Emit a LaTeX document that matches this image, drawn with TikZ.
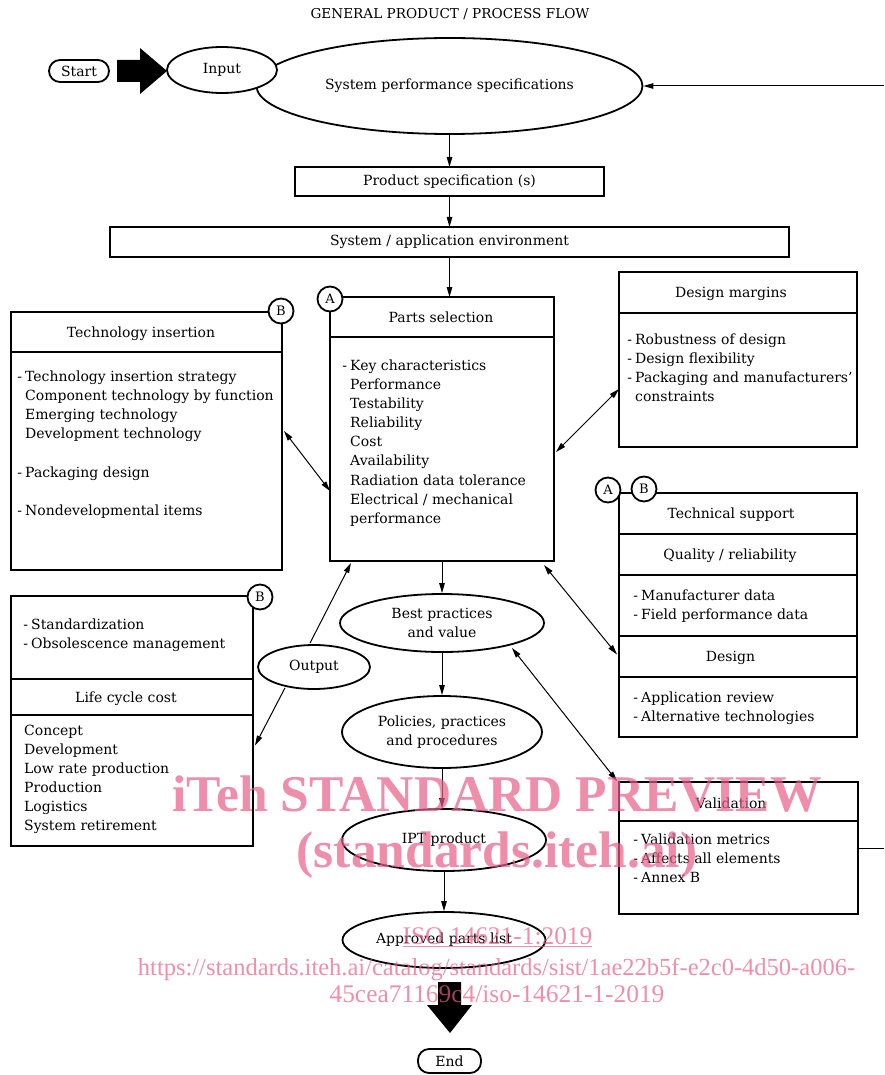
\documentclass[tikz,border=0pt]{standalone}
\usepackage{fontspec}
\setmainfont{DejaVu Serif}
\newfontfamily\wmfont{Liberation Serif}
\usetikzlibrary{shapes.geometric,arrows.meta,calc}
\definecolor{wmpink}{RGB}{231,94,134}
\newcommand\bodyfs{\fontsize{14}{19}\selectfont}
\newcommand\dsh{\llap{-\hspace{3pt}}}
\begin{document}
\begin{tikzpicture}[x=1pt,y=-1pt,
  every node/.style={font=\bodyfs},
  box/.style={draw, line width=1.8pt, rectangle, anchor=north west, inner sep=0, outer sep=0},
  ell/.style={draw, line width=1.8pt, ellipse, fill=white, inner sep=0, align=center},
  txt/.style={anchor=west, inner sep=0, text height=13pt, text depth=3pt},
  hdr/.style={inner sep=0, text height=13pt, text depth=3pt},
  arr/.style={line width=1pt, -{Triangle[length=10pt,width=5.5pt]}},
  darr/.style={line width=1pt, {Triangle[length=10pt,width=5.5pt]}-{Triangle[length=10pt,width=5.5pt]}},
  lbl/.style={draw, circle, line width=1.8pt, fill=white, minimum size=25pt, inner sep=0, font=\fontsize{13}{13}\selectfont},
  term/.style={draw, line width=1.8pt, rounded corners=11pt, inner sep=0},
  wm/.style={text=wmpink, opacity=0.7, inner sep=0, anchor=base}
]
\useasboundingbox (0,0) rectangle (884,1075);

% title
\node[font=\fontsize{13.6}{16}\selectfont] (title) at (450,14) {GENERAL PRODUCT / PROCESS FLOW};

% top flow
\node[term, minimum width=60pt, minimum height=22pt] (start) at (79,71) {Start};
\node[ell, minimum width=386pt, minimum height=96pt] (sps) at (449.5,86) {System performance specifications};
\node[ell, minimum width=110pt, minimum height=46pt] (input) at (222,70) {Input};
\fill (117,60) -- (140,60) -- (140,48) -- (167,71) -- (140,94) -- (140,82) -- (117,82) -- cycle;

\node[box, minimum width=309pt, minimum height=29pt] (ps) at (295,167) {Product specification (s)};
\node[box, minimum width=679pt, minimum height=30pt] (env) at (110,227) {System / application environment};

\coordinate (fbtop) at (884,86);
\draw[arr] (fbtop) -- (sps);
\draw[arr] (sps.south) -- (sps.south |- ps.north);
\draw[arr] (ps.south) -- (ps.south |- env.north);

% parts selection
\node[box, minimum width=224pt, minimum height=40pt] (psh) at (330,297) {};
\node[hdr] (psh-t) at (441,317) {Parts selection};
\node[box, minimum width=224pt, minimum height=224pt] (psb) at (330,337) {};
\draw[arr] (env.south) -- (env.south |- psh.north);
\foreach \y/\t [count=\i] in {365/{\dsh Key characteristics}, 384/Performance, 403/Testability, 422/Reliability, 441/Cost, 460/Availability, 480/{Radiation data tolerance}, 499/{Electrical / mechanical}, 518/performance}
  \node[txt] (psl\i) at (350,\y) {\t};
\node[lbl] (ca1) at (330,299) {A};

% technology insertion
\node[box, minimum width=271pt, minimum height=40pt] (tih) at (11,312) {};
\node[hdr] (tih-t) at (141,332) {Technology insertion};
\node[box, minimum width=271pt, minimum height=218pt] (tib) at (11,352) {};
\foreach \y/\t [count=\i] in {376/{\dsh Technology insertion strategy}, 395/{Component technology by function}, 414/{Emerging technology}, 433/{Development technology}, 472/{\dsh Packaging design}, 510/{\dsh Nondevelopmental items}}
  \node[txt] (til\i) at (25,\y) {\t};
\node[lbl] (cb1) at (281,311) {B};
\draw[darr] ($(tib.east)+(2,-30)$) -- ($(psb.west)+(0,42)$);

% design margins
\node[box, minimum width=238pt, minimum height=41pt] (dmh) at (619,272) {};
\node[hdr] (dmh-t) at (731,292) {Design margins};
\node[box, minimum width=238pt, minimum height=134pt] (dmb) at (619,313) {};
\foreach \y/\t [count=\i] in {339/{\dsh Robustness of design}, 358/{\dsh Design flexibility}, 377/{\dsh Packaging and manufacturers'}, 396/constraints}
  \node[txt] (dml\i) at (635,\y) {\t};
\draw[darr] ($(psb.east)+(2,3)$) -- ($(dmb.west)+(0,9)$);

% technical support
\node[box, minimum width=238pt, minimum height=41pt] (tsh) at (619,493) {};
\node[hdr] (tsh-t) at (731,513) {Technical support};
\node[box, minimum width=238pt, minimum height=41pt] (qrh) at (619,534) {};
\node[hdr] (qrh-t) at (730,554) {Quality / reliability};
\node[box, minimum width=238pt, minimum height=61pt] (qrb) at (619,575) {};
\node[box, minimum width=238pt, minimum height=41pt] (dsh) at (619,636) {};
\node[hdr] (dsh-t) at (730.5,656) {Design};
\node[box, minimum width=238pt, minimum height=60pt] (dsb) at (619,677) {};
\foreach \y/\t [count=\i] in {595/{\dsh Manufacturer data}, 614/{\dsh Field performance data}}
  \node[txt] (qrl\i) at (641,\y) {\t};
\foreach \y/\t [count=\i] in {697/{\dsh Application review}, 716/{\dsh Alternative technologies}}
  \node[txt] (dsl\i) at (641,\y) {\t};
\node[lbl] (ca2) at (608,490) {A};
\node[lbl] (cb2) at (644,489) {B};
\draw[darr] ($(psb.south)+(102,4)$) -- ($(dsh.west)+(-2,-2)$);

% lower left
\node[box, minimum width=242pt, minimum height=83pt] (lo1) at (11,596) {};
\node[box, minimum width=242pt, minimum height=36pt] (lo2) at (11,679) {};
\node[hdr] (lo2-t) at (126,697) {Life cycle cost};
\node[box, minimum width=242pt, minimum height=131pt] (lo3) at (11,715) {};
\foreach \y/\t [count=\i] in {624/{\dsh Standardization}, 643/{\dsh Obsolescence management}}
  \node[txt] (lol\i) at (31,\y) {\t};
\foreach \y/\t [count=\i] in {730/Concept, 749/Development, 768/{Low rate production}, 787/Production, 806/Logistics, 825/{System retirement}}
  \node[txt] (lcl\i) at (24,\y) {\t};
\node[lbl] (cb3) at (260,597) {B};

% output
\node[ell, minimum width=112pt, minimum height=44pt] (out) at (314,667) {Output};
\draw[arr] ($(out.north)+(-4,-1)$) -- ($(psb.south)+(-91,2)$);
\draw[arr] ($(out.south)+(-29,-2)$) -- ($(lo3.east)+(2,-35)$);

% centre column
\node[ell, minimum width=204pt, minimum height=58pt] (best) at (442,623) {Best practices\\and value};
\node[ell, minimum width=200pt, minimum height=72pt] (pol) at (442,732) {Policies, practices\\and procedures};
\node[ell, minimum width=204pt, minimum height=62pt] (ipt) at (444,840) {IPT product};
\node[ell, minimum width=203pt, minimum height=56pt] (apl) at (444,940) {Approved parts list};
\draw[arr] (psb.south) -- (psb.south |- best.north);
\draw[arr] (best.south) -- (pol.north);
\draw[arr] (pol.south) -- (pol.south |- ipt.north);
\draw[arr] (ipt.south) -- (apl.north);
\fill (438,982) -- (461,982) -- (461,1005) -- (472,1005) -- (450,1033) -- (427,1005) -- (438,1005) -- cycle;
\node[term, minimum width=63pt, minimum height=24pt] (end) at (449.5,1061) {End};

% validation
\node[box, minimum width=239pt, minimum height=39pt] (vh) at (619,782) {};
\node[hdr] (vh-t) at (731,803) {Validation};
\node[box, minimum width=239pt, minimum height=93pt] (vb) at (619,821) {};
\foreach \y/\t [count=\i] in {839/{\dsh Validation metrics}, 858/{\dsh Affects all elements}, 877/{\dsh Annex B}}
  \node[txt] (vl\i) at (641,\y) {\t};
\coordinate (fbbot) at (884,848);
\draw[line width=1pt] (vb.east |- fbbot) -- (fbbot);
\draw[darr] ($(best.center)+(70,25)$) -- ($(vh.north west)+(-2,-1)$);

% watermark
\node[wm, font=\wmfont\bfseries\fontsize{51.5}{52}\selectfont] (wm1) at (497,811) {iTeh STANDARD PREVIEW};
\node[wm, font=\wmfont\bfseries\fontsize{51.5}{52}\selectfont] (wm2) at (497,867) {(standards.iteh.ai)};
\node[wm, font=\wmfont\fontsize{25.4}{26}\selectfont] (wm3) at (497.5,944) {\underline{ISO 14621-1:2019}};
\node[wm, font=\wmfont\fontsize{24.5}{26}\selectfont] (wm4) at (496.5,975) {https://standards.iteh.ai/catalog/standards/sist/1ae22b5f-e2c0-4d50-a006-};
\node[wm, font=\wmfont\fontsize{25.4}{26}\selectfont] (wm5) at (497,1002) {45cea71169c4/iso-14621-1-2019};
\end{tikzpicture}
\end{document}
